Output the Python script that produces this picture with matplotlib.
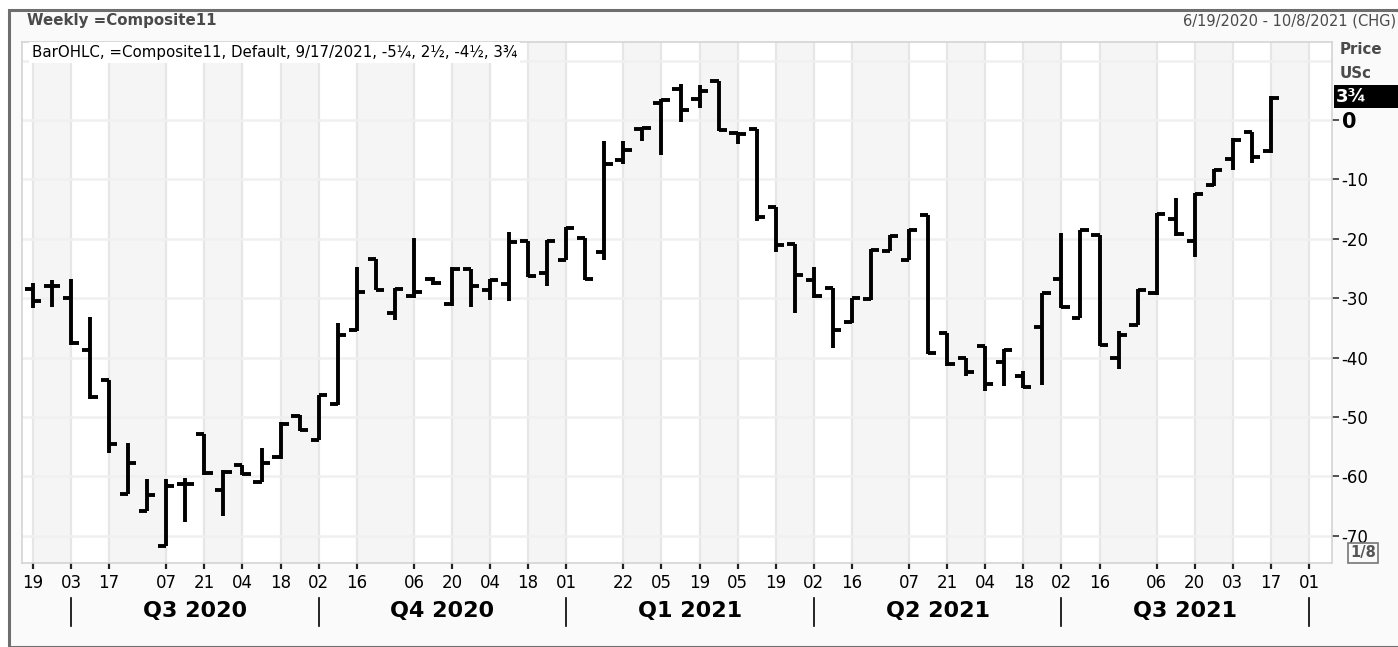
import numpy as np
import pandas as pd
import matplotlib
matplotlib.use("Agg")
import matplotlib.pyplot as plt
import matplotlib.dates as mdates
from matplotlib.patches import Rectangle

#%% data (weekly OHLC, US cents)
start = "2020-06-19"
opens = [-28.5, -27.9, -29.9, -38.7, -43.8, -63.0, -65.9, -71.7, -61.2, -52.9, -62.3, -58.1, -60.9, -56.7,
         -49.8, -53.9, -47.8, -35.4, -23.4, -32.5, -29.7, -26.8, -31.0, -25.1, -28.7, -27.6, -20.3, -25.7,
         -23.5, -19.9, -22.3, -6.8, -1.5, 2.8, 5.3, 3.5, 6.5, -2.2, -1.5, -14.6, -20.9, -27.0, -28.3, -34.0,
         -30.2, -22.0, -23.5, -16.0, -35.8, -40.1, -38.0, -40.8, -43.1, -34.8, -26.8, -33.4, -19.4, -40.0,
         -34.5, -29.2, -16.7, -20.3, -10.9, -6.6, -2.1, -5.25]
highs = [-27.5, -26.9, -26.8, -33.1, -43.8, -54.3, -60.5, -60.5, -60.3, -52.9, -59.0, -58.0, -55.3, -50.9,
         -49.7, -46.3, -34.1, -24.7, -23.4, -28.3, -19.8, -26.5, -24.8, -25.0, -26.7, -18.8, -20.3, -20.2,
         -18.0, -19.9, -3.6, -3.6, -1.1, 3.5, 6.1, 5.9, 6.5, -2.1, -1.5, -14.6, -20.9, -24.7, -28.3, -29.9,
         -21.8, -19.4, -18.4, -16.0, -35.8, -40.1, -38.0, -38.6, -42.2, -29.1, -19.0, -18.5, -19.4, -35.6,
         -28.5, -15.6, -13.2, -12.3, -8.3, -3.1, -2.1, 4.0]
lows = [-31.7, -31.4, -37.9, -46.9, -56.1, -63.0, -65.9, -71.7, -67.6, -59.8, -66.7, -59.8, -60.9, -57.0,
        -52.3, -53.9, -48.0, -35.6, -28.7, -33.7, -29.9, -27.8, -31.3, -31.4, -30.3, -30.4, -26.5, -27.9,
        -23.6, -26.9, -23.6, -7.4, -3.6, -5.9, -0.4, 2.0, -1.8, -4.0, -17.0, -22.2, -32.5, -29.9, -38.4, -34.1,
        -30.3, -22.1, -23.6, -39.4, -41.4, -43.1, -45.6, -44.8, -45.2, -44.6, -31.7, -33.4, -38.0, -42.0,
        -34.5, -29.5, -19.5, -23.1, -11.1, -8.4, -7.2, -5.5]
closes = [-30.4, -27.9, -37.5, -46.6, -54.5, -57.7, -63.1, -61.6, -61.2, -59.5, -59.3, -59.6, -57.7, -51.2,
          -52.2, -46.3, -36.2, -28.9, -28.6, -28.5, -28.9, -27.4, -25.0, -27.9, -26.9, -20.5, -26.3, -20.4,
          -18.2, -26.8, -7.4, -5.1, -1.4, 3.4, 1.7, 4.9, -1.7, -2.3, -16.4, -21.0, -26.1, -29.6, -35.4, -30.0,
          -21.9, -19.5, -18.5, -39.3, -41.1, -42.4, -44.4, -38.7, -45.0, -29.2, -31.5, -18.6, -37.9, -36.2,
          -28.6, -15.8, -19.2, -12.5, -8.4, -3.3, -6.2, 3.75]

tick_dates = ["2020-06-19", "2020-07-03", "2020-07-17", "2020-08-07", "2020-08-21", "2020-09-04",
              "2020-09-18", "2020-10-02", "2020-10-16", "2020-11-06", "2020-11-20", "2020-12-04",
              "2020-12-18", "2021-01-01", "2021-01-22", "2021-02-05", "2021-02-19", "2021-03-05",
              "2021-03-19", "2021-04-02", "2021-04-16", "2021-05-07", "2021-05-21", "2021-06-04",
              "2021-06-18", "2021-07-02", "2021-07-16", "2021-08-06", "2021-08-20", "2021-09-03",
              "2021-09-17", "2021-10-01"]
quarter_edges = ["2020-07-03", "2020-10-02", "2021-01-01", "2021-04-02", "2021-07-02", "2021-10-01"]
quarter_names = ["Q3 2020", "Q4 2020", "Q1 2021", "Q2 2021", "Q3 2021"]
yticks = [0, -10, -20, -30, -40, -50, -60, -70]
last_label = "3\u00be"
legend_txt = "BarOHLC, =Composite11, Default, 9/17/2021, -5\u00bc, 2\u00bd, -4\u00bd, 3\u00be"

#%% geometry
W, H = 1398, 647
fig = plt.figure(figsize=(W / 100, H / 100), dpi=100, facecolor="white")

def fx(px):
    return px / W

def fy(py):
    return 1 - py / H

# outer frame
frame = Rectangle((fx(9), 0), 1, fy(10), transform=fig.transFigure,
                  facecolor="#fafafa", edgecolor="#6e6e6e", lw=2.2, zorder=-10)
fig.add_artist(frame)

ax_l, ax_r, ax_t, ax_b = 22, 1332, 42, 563
ax = fig.add_axes([fx(ax_l), fy(ax_b), fx(ax_r - ax_l), (ax_b - ax_t) / H])
ax.set_facecolor("white")
ax.set_zorder(1)

dates = mdates.date2num(pd.date_range(start, periods=len(opens), freq="7D"))
tnum = mdates.date2num(pd.to_datetime(tick_dates))
qnum = mdates.date2num(pd.to_datetime(quarter_edges))

px_per_day = (1309 - 33) / (tnum[-1] - tnum[0])
x0 = tnum[0] - (33 - ax_l) / px_per_day
x1 = tnum[-1] + (ax_r - 1309) / px_per_day
y_per_px = 10 / 59.4
y_top = (120 - ax_t) * y_per_px
y_bot = (120 - ax_b) * y_per_px
ax.set_xlim(x0, x1)
ax.set_ylim(y_bot, y_top)

# alternating bands
edges = np.concatenate([[x0], tnum, [x1]])
for i in range(len(edges) - 1):
    if i % 2 == 1:
        ax.axvspan(edges[i], edges[i + 1], color="#f5f5f5", lw=0, zorder=0)
ax.vlines(tnum, y_bot, y_top, color="#e6e6e6", lw=1.6, zorder=1)
ax.hlines(list(range(10, -80, -10)), x0, x1, color="#f0f0f0", lw=1.8, zorder=1)

# OHLC bars
lw = 2.8
tk = 3.0
ax.vlines(dates, lows, highs, color="black", lw=lw, zorder=3)
ax.hlines(opens, dates - tk, dates, color="black", lw=lw, zorder=3)
ax.hlines(closes, dates, dates + tk, color="black", lw=lw, zorder=3)

for s in ax.spines.values():
    s.set_color("#d4d4d4")
    s.set_linewidth(1.2)

# x axis
ax.set_xticks(tnum)
ax.set_xticklabels([pd.Timestamp(d).strftime("%d") for d in tick_dates])
ax.tick_params(axis="x", length=4, width=1.6, color="#222222", pad=4, labelsize=12)

# y axis on the right
ax.yaxis.tick_right()
ax.set_yticks(yticks)
ax.set_yticklabels([str(v) for v in yticks])
ax.tick_params(axis="y", length=5, width=1.2, color="#333333", pad=2, labelsize=12)
for lab in ax.get_yticklabels():
    if lab.get_text() == "0":
        lab.set_fontweight("bold")
        lab.set_fontsize(15)

# quarter separators and names
for q in qnum:
    xp = ax.transData.transform((q, 0))[0] / W
    fig.add_artist(plt.Line2D([xp, xp], [fy(598), fy(626)], color="black", lw=1.2))
for i, name in enumerate(quarter_names):
    xm = (qnum[i] + qnum[i + 1]) / 2
    xp = ax.transData.transform((xm, 0))[0] / W
    fig.text(xp, fy(611), name, ha="center", va="center", fontsize=16, fontweight="bold")

# header texts
fig.text(fx(27), fy(21), "Weekly =Composite11", ha="left", va="center", fontsize=10.8,
         fontweight="bold", color="#4a4a4a")
fig.text(fx(1396), fy(21), "6/19/2020 - 10/8/2021 (CHG)", ha="right", va="center",
         fontsize=10.5, color="#4a4a4a")
fig.text(fx(32), fy(52.5), legend_txt, ha="left", va="center", fontsize=10.8,
         color="black", zorder=5,
         bbox=dict(boxstyle="square,pad=0.2", facecolor="white", edgecolor="none"))

# right axis header
fig.text(fx(1340), fy(50), "Price", ha="left", va="center", fontsize=10.8,
         fontweight="bold", color="#4a4a4a")
fig.text(fx(1340), fy(73), "USc", ha="left", va="center", fontsize=10.8,
         fontweight="bold", color="#4a4a4a")
fig.add_artist(Rectangle((fx(1334), fy(108)), fx(64), (108 - 85) / H,
                         transform=fig.transFigure, facecolor="black", edgecolor="none", zorder=4))
fig.text(fx(1336), fy(97), last_label, ha="left", va="center", fontsize=13,
         fontweight="bold", color="white", zorder=5)
fig.text(fx(1363), fy(553), "1/8", ha="center", va="center", fontsize=10.5,
         fontweight="bold", color="#555555",
         bbox=dict(boxstyle="square,pad=0.15", facecolor="none", edgecolor="#777777", lw=1.2))

fig.savefig("out.png", dpi=100, facecolor="white")
